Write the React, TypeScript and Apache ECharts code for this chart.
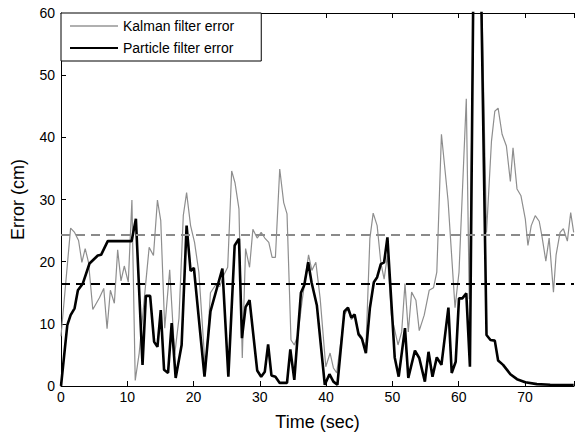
import React, { useEffect, useRef } from "react";
import * as echarts from "echarts";

const kalmanTime = [0, 1.45, 2.05, 2.65, 3.15, 3.65, 4.15, 4.8, 5.8, 6.45, 6.95, 7.45, 8.05, 8.55, 9.05, 9.55, 10.15, 10.7, 11.2, 11.8, 12.8, 13.3, 13.95, 14.55, 15.05, 15.65, 16.4, 17.15, 17.8, 18.45, 18.95, 19.55, 20.15, 20.8, 21.8, 22.55, 23.3, 23.95, 24.55, 25.15, 25.75, 26.25, 26.85, 27.35, 27.85, 28.45, 28.95, 29.6, 30.2, 30.75, 31.35, 31.85, 32.35, 33, 33.6, 34.1, 34.7, 35.2, 35.75, 36.35, 37.35, 37.85, 38.45, 39.1, 39.95, 40.6, 41.1, 41.6, 42.75, 43.3, 43.8, 44.3, 44.9, 45.4, 46, 46.6, 47.1, 47.7, 48.25, 48.75, 49.25, 49.85, 50.85, 51.4, 51.9, 52.4, 52.9, 53.55, 54.05, 54.8, 55.55, 56.2, 56.7, 57.4, 58.4, 59.45, 60.05, 61.15, 61.6, 62.4, 63.3, 64.2, 64.95, 65.45, 65.95, 66.55, 67.2, 67.8, 68.2, 68.8, 69.4, 70.05, 70.45, 70.95, 71.55, 72.15, 72.55, 73.15, 73.65, 74.3, 74.7, 75.3, 75.8, 76.4, 76.9, 77.35];
const kalmanError = [8, 25.4, 24.7, 23.4, 19.9, 22.1, 19.9, 12.3, 14.2, 15.7, 9.2, 15.4, 13.3, 21.9, 16.9, 19.3, 16.7, 29.9, 0.9, 5.3, 16.7, 22.3, 21, 29.9, 26.6, 9.3, 18.7, 5, 10.9, 27.4, 31.1, 25.8, 23.1, 18.3, 2.3, 15, 16.2, 16, 17.8, 19.1, 34.6, 32.7, 28.5, 4.5, 22.1, 19.1, 25.2, 23.8, 24.7, 23.8, 23.1, 20.7, 20.7, 34.9, 29.5, 27.7, 7.4, 6.6, 8.2, 13.5, 21.1, 18.6, 19.9, 14.1, 3.1, 5.3, 2.9, 2.1, 11.5, 12.3, 10.7, 11.2, 8.6, 7.9, 6, 23.7, 27.8, 25.8, 19.9, 17.2, 21, 11.4, 6.6, 8.7, 16.5, 8.7, 15.1, 13.8, 8.9, 11.4, 15.4, 15.8, 18.3, 40.5, 29.8, 12.6, 18.3, 46.2, 14, 72, 72, 24.7, 39.4, 44.2, 44.7, 40.5, 38.6, 32.9, 38.3, 31.7, 30.6, 26.9, 22.6, 25.8, 27.4, 26.5, 24.2, 20.1, 23.8, 15.1, 21.1, 24.7, 25.3, 23.3, 27.9, 24.7];

const particleTime = [0, 0.95, 1.45, 2.05, 2.55, 3.3, 4.3, 5.55, 6.05, 7.05, 10.65, 11.3, 12.3, 12.8, 13.45, 14.05, 14.55, 15.05, 15.55, 16.15, 16.7, 17.3, 18.2, 18.95, 19.55, 20.05, 21.65, 22.55, 24.35, 25.25, 26.2, 26.85, 27.3, 27.85, 28.45, 29.6, 30.2, 30.75, 31.25, 31.75, 32.35, 33, 34.1, 34.6, 35.2, 36.2, 36.7, 37.3, 37.8, 38.6, 39.8, 40.5, 41.1, 41.7, 42.75, 43.3, 43.8, 44.3, 44.9, 45.4, 46, 46.6, 47.2, 47.7, 48.25, 48.75, 49.25, 50.35, 50.95, 51.9, 52.4, 53.4, 54.05, 54.9, 55.45, 56.05, 56.7, 57.4, 58.45, 58.95, 59.55, 60.05, 60.55, 61.15, 61.7, 62.3, 62.8, 63.3, 64.2, 64.8, 65.45, 65.95, 66.7, 67.8, 68.8, 70.05, 71.8, 73.8, 77.35];
const particleError = [0, 9.8, 11.4, 12.5, 15.4, 16.5, 19.7, 21, 21.1, 23.3, 23.3, 26.9, 3.4, 14.5, 14.5, 7.1, 6.3, 12.2, 2.6, 2.1, 10.1, 1.3, 6.6, 25.8, 18.5, 19, 1.5, 12, 18.9, 1.5, 22.6, 23.7, 7.7, 12.7, 13.8, 2.5, 1.5, 2.3, 6.7, 1.7, 1.5, 0.5, 0.5, 5.9, 1.0, 15, 16.2, 19.9, 16.7, 13, 0.2, 1.9, 0.7, 0.2, 12, 12.6, 11, 11.5, 8.3, 7.6, 5.3, 12.5, 16.7, 17.5, 19.6, 19.9, 23.9, 4.6, 1.5, 9.3, 1.3, 5.7, 4.5, 0.7, 5.5, 1.5, 4.6, 3.4, 12.6, 2.1, 3.9, 14.1, 14.1, 14.9, 3.1, 75, 90, 70, 8.2, 7.4, 7.3, 4.1, 3.4, 1.9, 1.1, 0.6, 0.3, 0.2, 0.15];

const kalmanMean = 24.3;
const particleMean = 16.4;

const xTicks = [0, 10, 20, 30, 40, 50, 60, 70];
const yTicks = [0, 10, 20, 30, 40, 50, 60];

export default function App() {
  const ref = useRef<HTMLDivElement>(null);
  useEffect(() => {
    if (!ref.current) return;
    const chart = echarts.init(ref.current, null, { renderer: "svg" });
    const font = "'Liberation Sans', Arial, sans-serif";
    const kData = kalmanTime.map((t, i) => [t, kalmanError[i]]);
    const pData = particleTime.map((t, i) => [t, particleError[i]]);
    chart.setOption({
      animation: false,
      backgroundColor: "#ffffff",
      grid: { left: 61, top: 13, right: 0, bottom: 48, containLabel: false },
      legend: {
        left: 61,
        top: 13,
        orient: "vertical",
        backgroundColor: "#ffffff",
        borderColor: "#000",
        borderWidth: 1,
        borderRadius: 0,
        padding: [5, 27, 5, 9],
        itemWidth: 48,
        itemHeight: 2,
        itemGap: 6,
        textStyle: { fontFamily: font, fontSize: 14, color: "#000", lineHeight: 16 },
        data: [
          { name: "Kalman filter error", icon: "rect", itemStyle: { color: "#b0b0b0" } },
          { name: "Particle filter error", icon: "rect", itemStyle: { color: "#000" } },
        ],
      },
      xAxis: [
        {
          type: "value",
          min: 0,
          max: 77.4,
          interval: 10,
          name: "Time (sec)",
          nameLocation: "middle",
          nameGap: 27,
          nameTextStyle: { fontFamily: font, fontSize: 18, color: "#000" },
          axisLine: { show: true, lineStyle: { color: "#000", width: 1 } },
          axisTick: { show: true, inside: true, length: 5, lineStyle: { color: "#000" } },
          axisLabel: {
            fontFamily: font,
            fontSize: 14,
            color: "#000",
            margin: 4,
            formatter: (v: number) => (xTicks.includes(v) ? String(v) : ""),
          },
          splitLine: { show: false },
        },
        {
          type: "value",
          position: "top",
          min: 0,
          max: 77.4,
          interval: 10,
          axisLine: { show: true, lineStyle: { color: "#000", width: 1 } },
          axisTick: { show: true, inside: true, length: 5, lineStyle: { color: "#000" } },
          axisLabel: { show: false },
          splitLine: { show: false },
        },
      ],
      yAxis: {
        type: "value",
        min: 0,
        max: 60,
        interval: 10,
        name: "Error (cm)",
        nameLocation: "middle",
        nameGap: 34,
        nameTextStyle: { fontFamily: font, fontSize: 18, color: "#000" },
        axisLine: { show: true, lineStyle: { color: "#000", width: 1 } },
        axisTick: { show: true, inside: true, length: 5, lineStyle: { color: "#000" } },
        axisLabel: {
          fontFamily: font,
          fontSize: 14,
          color: "#000",
          margin: 6,
          formatter: (v: number) => (yTicks.includes(v) ? String(v) : ""),
        },
        splitLine: { show: false },
      },
      series: [
        {
          name: "Kalman filter error",
          type: "line",
          xAxisIndex: 0,
          data: kData,
          symbol: "none",
          clip: true,
          lineStyle: { color: "#8e8e8e", width: 1.2 },
          itemStyle: { color: "#b0b0b0" },
          z: 2,
          markLine: {
            silent: true,
            symbol: ["none", "none"],
            label: { show: false },
            lineStyle: { color: "#8a8a8a", width: 2, type: [9, 6] },
            data: [{ yAxis: kalmanMean }],
          },
        },
        {
          name: "Particle filter error",
          type: "line",
          xAxisIndex: 0,
          data: pData,
          symbol: "none",
          clip: true,
          lineStyle: { color: "#000", width: 2.6 },
          itemStyle: { color: "#000" },
          z: 3,
          markLine: {
            silent: true,
            symbol: ["none", "none"],
            label: { show: false },
            lineStyle: { color: "#000", width: 2, type: [9, 6] },
            data: [{ yAxis: particleMean }],
          },
        },
      ],
    });
    return () => chart.dispose();
  }, []);
  return (
    <div
      ref={ref}
      style={{ position: "fixed", left: 0, top: 0, width: 577, height: 436, background: "#fff" }}
    />
  );
}
